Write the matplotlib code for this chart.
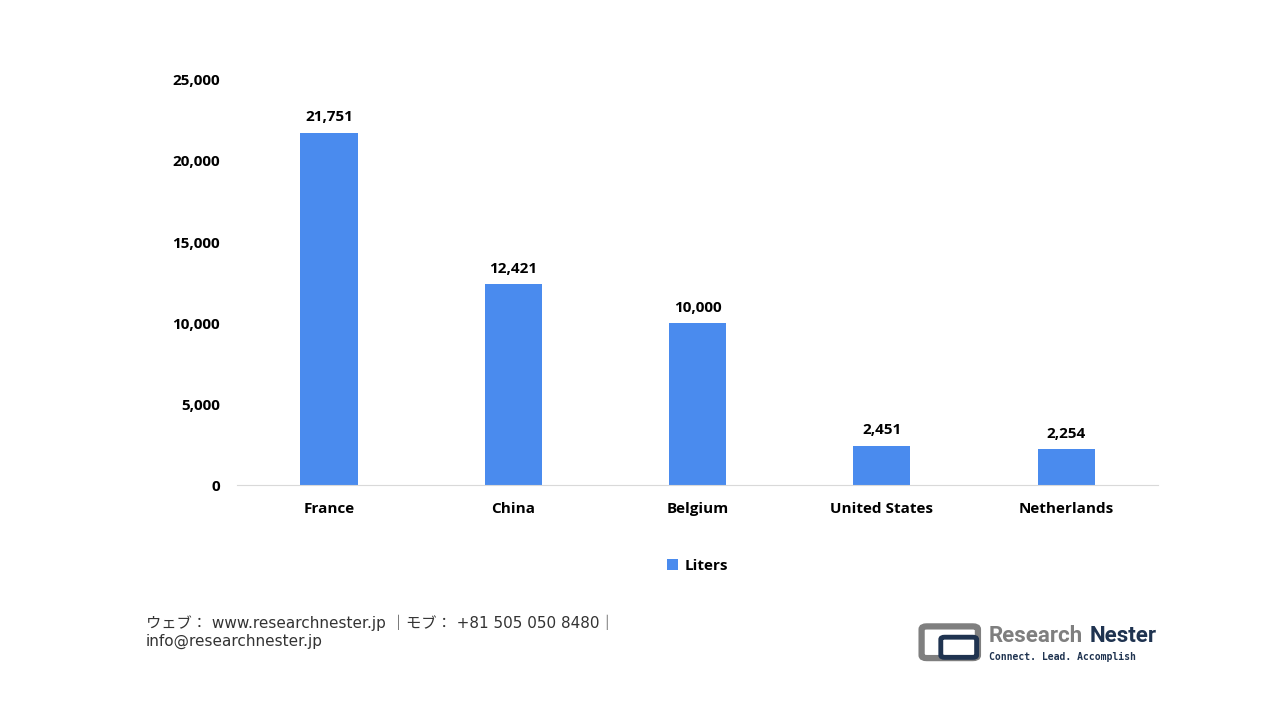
import matplotlib
matplotlib.use("Agg")
from matplotlib import pyplot as plt
from matplotlib.patches import FancyBboxPatch

countries = ["France", "China", "Belgium", "United States", "Netherlands"]
liters = [21751, 12421, 10000, 2451, 2254]
yticks = [0, 5000, 10000, 15000, 20000, 25000]

bar_color = "#4A8BEE"
plt.rcParams["font.family"] = ["Open Sans", "DejaVu Sans"]

fig = plt.figure(figsize=(12.8, 7.2), dpi=100)
ax = fig.add_axes([0.185, 0.326, 0.72, 0.563])

x = range(len(countries))
bars = ax.bar(x, liters, width=0.31, color=bar_color, label="Liters")
for b, v in zip(bars, liters):
    ax.text(b.get_x() + b.get_width() / 2, v + 500, f"{v:,}",
            ha="center", va="bottom", fontsize=11, fontweight="bold")

ax.set_xlim(-0.5, 4.5)
ax.set_ylim(0, 25000)
ax.set_yticks(yticks)
ax.set_yticklabels([f"{t:,}" for t in yticks], fontsize=11, fontweight="bold")
ax.set_xticks(list(x))
ax.set_xticklabels(countries, fontsize=11, fontweight="bold")
ax.tick_params(length=0, pad=12)
for s in ["top", "right", "left"]:
    ax.spines[s].set_visible(False)
ax.spines["bottom"].set_color("#d9d9d9")

ax.legend(loc="upper center", bbox_to_anchor=(0.5, -0.148), frameon=False,
          prop={"size": 11, "weight": "bold"}, handlelength=0.7,
          handleheight=0.7, handletextpad=0.4)

fig.text(0.114, 0.122, "ウェブ： www.researchnester.jp ｜モブ： +81 505 050 8480｜\ninfo@researchnester.jp",
         fontsize=11, color="#333333", va="center", linespacing=1.2,
         family=["DejaVu Sans", "Noto Sans CJK JP"])

# logo
icon = FancyBboxPatch((0.724, 0.09), 0.036, 0.036, boxstyle="round,pad=0.004",
                      transform=fig.transFigure, facecolor="none",
                      edgecolor="#7f7f7f", linewidth=4.5)
fig.patches.append(icon)
icon2 = FancyBboxPatch((0.738, 0.09), 0.022, 0.022, boxstyle="round,pad=0.003",
                       transform=fig.transFigure, facecolor="none",
                       edgecolor="#1f3350", linewidth=3.5)
fig.patches.append(icon2)
fig.text(0.772, 0.117, "Research", fontsize=16, color="#7f7f7f", fontweight="bold",
         va="center", family="Roboto")
fig.text(0.851, 0.117, "Nester", fontsize=16, color="#1f3350", fontweight="bold",
         va="center", family="Roboto")
fig.text(0.773, 0.087, "Connect. Lead. Accomplish", fontsize=7, color="#1f3350",
         fontweight="bold", va="center", family="DejaVu Sans Mono")

fig.savefig("out.png", dpi=100)
